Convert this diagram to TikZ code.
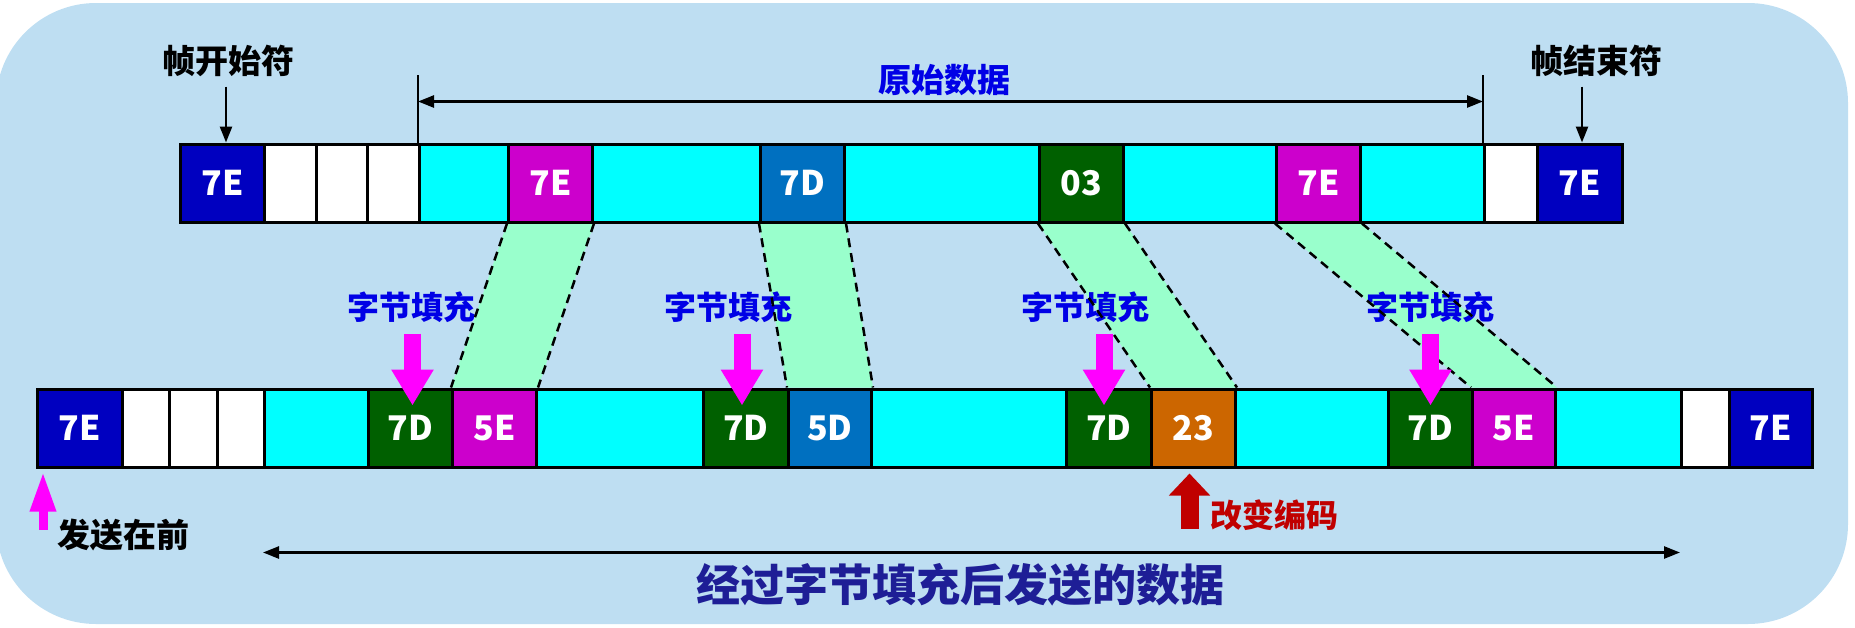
\documentclass[tikz,border=0pt]{standalone}
\usepackage{fontspec}
\setmainfont{Noto Sans CJK SC}
\usetikzlibrary{arrows.meta,calc}
\definecolor{bgblue}{RGB}{190,222,242}
\definecolor{fdark}{RGB}{0,0,192}
\definecolor{fmag}{RGB}{204,0,204}
\definecolor{fcyan}{RGB}{0,255,255}
\definecolor{fblue}{RGB}{0,112,192}
\definecolor{fgreen}{RGB}{0,96,0}
\definecolor{forange}{RGB}{204,102,0}
\definecolor{fmint}{RGB}{153,255,204}
\definecolor{fpink}{RGB}{255,0,255}
\definecolor{lblue}{RGB}{0,0,230}
\definecolor{tnavy}{RGB}{30,30,150}
\definecolor{dred}{RGB}{192,0,0}
\pgfdeclarelayer{back}
\pgfdeclarelayer{mid}
\pgfsetlayers{back,mid,main}
\begin{document}
\begin{tikzpicture}[x=1pt,y=-1pt,
  cell/.style={draw=black, line width=3pt, minimum height=78pt, inner sep=0pt,
    anchor=west, text=white, font=\bfseries\fontsize{34}{34}\selectfont},
  cw/.style={minimum width=#1pt},
  lab/.style={inner sep=0pt, font=\bfseries\fontsize{33}{33}\selectfont},
  fill4/.style={lab, text=lblue, font=\bfseries\fontsize{32}{32}\selectfont},
  thinarrow/.style={line width=2.5pt, -{Triangle[length=16pt,width=12pt]}},
  dbl/.style={line width=2.5pt, {Triangle[length=16pt,width=12pt]}-{Triangle[length=16pt,width=12pt]}},
  dashline/.style={line width=2.5pt, dash pattern=on 9pt off 6pt},
  pinkarrow/.style={fpink, line width=17pt, -{Triangle[length=36pt,width=40pt]}},
  redarrow/.style={dred, line width=18pt, -{Triangle[length=22pt,width=40pt]}},
  smallpink/.style={fpink, line width=9pt, -{Triangle[length=40pt,width=24pt]}}
]
\useasboundingbox (0,0) rectangle (1855,627);
\begin{pgfonlayer}{back}
\fill[bgblue, rounded corners=100pt] (-4,3) rectangle (1848,624);
\end{pgfonlayer}

% top row
\node[cell, cw=84,  fill=fdark]  (t1)  at (179,183)   {7E};
\node[cell, cw=51.7,fill=white]  (t2)  at (263,183)   {};
\node[cell, cw=51.7,fill=white]  (t3)  at (314.7,183) {};
\node[cell, cw=51.6,fill=white]  (t4)  at (366.3,183) {};
\node[cell, cw=89,  fill=fcyan]  (t5)  at (418,183)   {};
\node[cell, cw=84,  fill=fmag]   (t6)  at (507,183)   {7E};
\node[cell, cw=168, fill=fcyan]  (t7)  at (591,183)   {};
\node[cell, cw=84,  fill=fblue]  (t8)  at (759,183)   {7D};
\node[cell, cw=195, fill=fcyan]  (t9)  at (843,183)   {};
\node[cell, cw=84,  fill=fgreen] (t10) at (1038,183)  {03};
\node[cell, cw=153, fill=fcyan]  (t11) at (1122,183)  {};
\node[cell, cw=84,  fill=fmag]   (t12) at (1275,183)  {7E};
\node[cell, cw=124, fill=fcyan]  (t13) at (1359,183)  {};
\node[cell, cw=53,  fill=white]  (t14) at (1483,183)  {};
\node[cell, cw=85,  fill=fdark]  (t15) at (1536,183)  {7E};

% bottom row
\node[cell, cw=85,  fill=fdark]   (b1)  at (36,428)    {7E};
\node[cell, cw=47.3,fill=white]   (b2)  at (121,428)   {};
\node[cell, cw=47.4,fill=white]   (b3)  at (168.3,428) {};
\node[cell, cw=47.3,fill=white]   (b4)  at (215.7,428) {};
\node[cell, cw=104, fill=fcyan]   (b5)  at (263,428)   {};
\node[cell, cw=84,  fill=fgreen]  (b6)  at (367,428)   {7D};
\node[cell, cw=84,  fill=fmag]    (b7)  at (451,428)   {5E};
\node[cell, cw=167, fill=fcyan]   (b8)  at (535,428)   {};
\node[cell, cw=85,  fill=fgreen]  (b9)  at (702,428)   {7D};
\node[cell, cw=83,  fill=fblue]   (b10) at (787,428)   {5D};
\node[cell, cw=195, fill=fcyan]   (b11) at (870,428)   {};
\node[cell, cw=85,  fill=fgreen]  (b12) at (1065,428)  {7D};
\node[cell, cw=84,  fill=forange] (b13) at (1150,428)  {23};
\node[cell, cw=153, fill=fcyan]   (b14) at (1234,428)  {};
\node[cell, cw=84,  fill=fgreen]  (b15) at (1387,428)  {7D};
\node[cell, cw=83,  fill=fmag]    (b16) at (1471,428)  {5E};
\node[cell, cw=126, fill=fcyan]   (b17) at (1554,428)  {};
\node[cell, cw=48,  fill=white]   (b18) at (1680,428)  {};
\node[cell, cw=83,  fill=fdark]   (b19) at (1728,428)  {7E};

% mapping bands
\begin{pgfonlayer}{mid}
\foreach \a/\b in {t6/b7, t8/b10, t10/b13, t12/b16}{
  \fill[fmint] (\a.south west) -- (\a.south east) -- (\b.north east) -- (\b.north west) -- cycle;
}
\end{pgfonlayer}

% labels
\node[lab] (lstart) at (228,61) {帧开始符};
\node[lab] (lend) at (1596,61) {帧结束符};
\node[lab, text=lblue] (lorig) at (944,80) {原始数据};
\node[fill4] (f1) at (411,307) {字节填充};
\node[fill4] (f2) at (728,307) {字节填充};
\node[fill4] (f3) at (1085,307) {字节填充};
\node[fill4] (f4) at (1430,307) {字节填充};
\node[lab, anchor=west] (lsend) at (57,535) {发送在前};
\node[lab, text=dred, anchor=west, font=\bfseries\fontsize{32}{32}\selectfont] (lchg) at (1210,515) {改变编码};
\node[lab, text=tnavy, font=\bfseries\fontsize{44}{44}\selectfont] (lbottom) at (960,585) {经过字节填充后发送的数据};

% dashed edges of bands
\foreach \a/\b in {t6/b7, t8/b10, t10/b13, t12/b16}{
  \draw[dashline] (\a.south west) -- (\b.north west);
  \draw[dashline] (\a.south east) -- (\b.north east);
}

% frame delimiter arrows
\draw[thinarrow] ($(lstart.south |- t1.north)+(-2,-56)$) -- ($(lstart.south |- t1.north)+(-2,0)$);
\draw[thinarrow] ($(lend.south |- t15.north)+(-14,-56)$) -- ($(lend.south |- t15.north)+(-14,0)$);

% original data bracket
\coordinate (bl) at ($(t5.north west)+(0,-68)$);
\coordinate (br) at ($(t14.north west)+(0,-68)$);
\draw[line width=2.5pt] (t5.north west) -- (bl);
\draw[line width=2.5pt] (t14.north west) -- (br);
\draw[dbl] ($(t5.north west)+(0,-41)$) -- ($(t14.north west)+(0,-41)$);

% byte stuffing arrows
\draw[pinkarrow] ($(b6.north)+(2,-54)$) -- ($(b6.north)+(2,18)$);
\draw[pinkarrow] ($(b9.north)+(-4,-54)$) -- ($(b9.north)+(-4,18)$);
\draw[pinkarrow] ($(b12.north)+(-5,-54)$) -- ($(b12.north)+(-5,18)$);
\draw[pinkarrow] ($(b15.north)+(0,-54)$) -- ($(b15.north)+(0,18)$);

% send-first arrow
\draw[smallpink] ($(b1.south west)+(7,61)$) -- ($(b1.south west)+(7,3)$);

% changed-code arrow
\draw[redarrow] ($(b13.south)+(-4,60)$) -- ($(b13.south)+(-4,5)$);

% sent data span
\draw[dbl] ($(b5.south west)+(0,84)$) -- ($(b18.south west)+(0,84)$);
\end{tikzpicture}
\end{document}
